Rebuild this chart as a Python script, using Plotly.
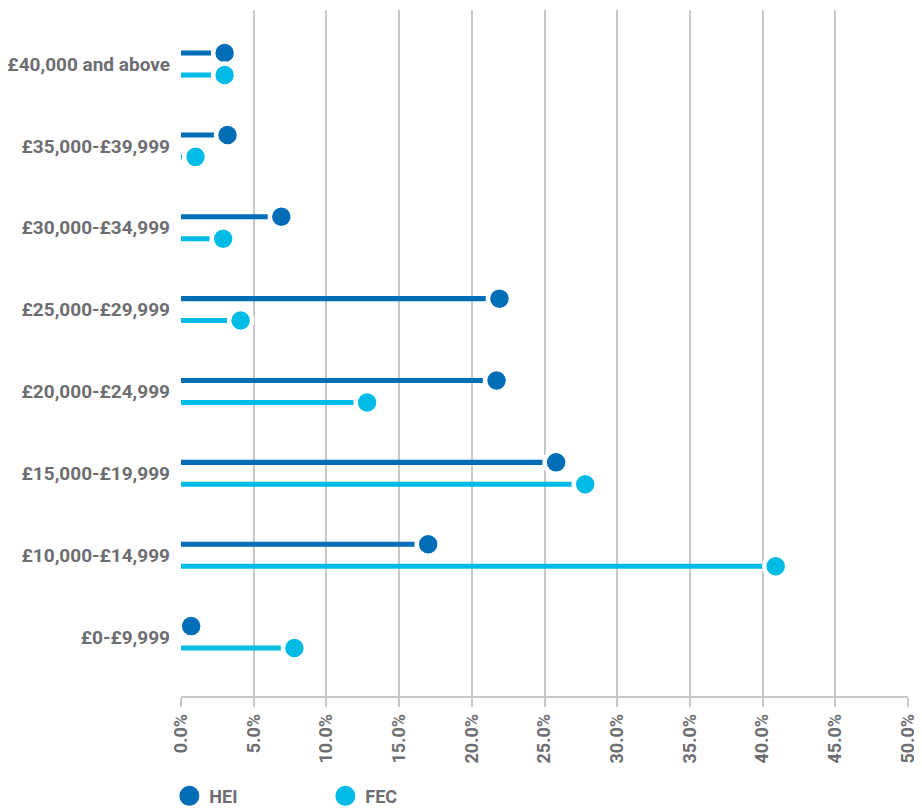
import plotly.graph_objects as go

categories = ["£0-£9,999", "£10,000-£14,999", "£15,000-£19,999", "£20,000-£24,999",
              "£25,000-£29,999", "£30,000-£34,999", "£35,000-£39,999", "£40,000 and above"]
hei = [0.7, 17.0, 25.8, 21.7, 21.9, 6.9, 3.2, 3.0]
fec = [7.8, 40.9, 27.8, 12.8, 4.1, 2.9, 1.0, 3.0]
x_ticks = [0, 5, 10, 15, 20, 25, 30, 35, 40, 45, 50]
x_tick_labels = [f"{v:.1f}%" for v in x_ticks]

HEI_COLOR = "#006db6"
FEC_COLOR = "#00bbe5"
TEXT = "#6d6e71"
FONT = "Roboto, Liberation Sans, sans-serif"
OFF = 0.134

idx = list(range(len(categories)))
y_hei = [i + OFF for i in idx]
y_fec = [i - OFF for i in idx]

fig = go.Figure()
for vals, ys, col in [(hei, y_hei, HEI_COLOR), (fec, y_fec, FEC_COLOR)]:
    fig.add_trace(go.Bar(x=vals, y=ys, orientation="h", width=0.062,
                         marker=dict(color=col, line=dict(width=0)),
                         showlegend=False, hoverinfo="skip"))
for name, vals, ys, col in [("HEI", hei, y_hei, HEI_COLOR), ("FEC", fec, y_fec, FEC_COLOR)]:
    fig.add_trace(go.Scatter(x=vals, y=ys, mode="markers", name=name, legendgroup=name,
                             showlegend=False,
                             marker=dict(color=col, size=23, line=dict(color="white", width=4.5)),
                             cliponaxis=False))
    # legend entry (larger solid dot, no white ring)
    fig.add_trace(go.Scatter(x=[None], y=[None], mode="markers", name=name, legendgroup=name,
                             marker=dict(color=col, size=16, line=dict(color=col, width=4))))

# page body has an 8px default margin, so the figure is sized/positioned to compensate
fig.update_layout(
    width=914, height=800,
    margin=dict(l=173, r=14, t=2, b=112, autoexpand=False),
    plot_bgcolor="white", paper_bgcolor="white",
    font=dict(family=FONT, color=TEXT, size=16),
    barmode="overlay",
    showlegend=True,
    legend=dict(orientation="h", x=-0.016, xanchor="left", y=-0.146, yanchor="middle",
                entrywidth=111, entrywidthmode="pixels",
                font=dict(family=FONT, size=18, color=TEXT, weight="bold"),
                itemsizing="trace"),
    xaxis=dict(range=[0, 50], tickvals=x_ticks, ticktext=x_tick_labels,
               tickangle=-90, showgrid=True, gridcolor="#c8c8c8", gridwidth=1.5,
               zeroline=False, showline=True, linecolor="#c8c8c8", linewidth=1.5,
               ticks="outside", ticklen=9, tickcolor="#c8c8c8", tickwidth=1.5,
               tickfont=dict(family=FONT, size=18, color=TEXT, weight="bold"),
               automargin=False, fixedrange=True),
    yaxis=dict(range=[-0.72, 7.66], tickvals=idx, ticktext=categories,
               showgrid=False, zeroline=False, showline=False, ticks="",
               ticklabelstandoff=10,
               tickfont=dict(family=FONT, size=19, color=TEXT, weight="bold"),
               automargin=False, fixedrange=True),
)
fig.write_html("out.html")
